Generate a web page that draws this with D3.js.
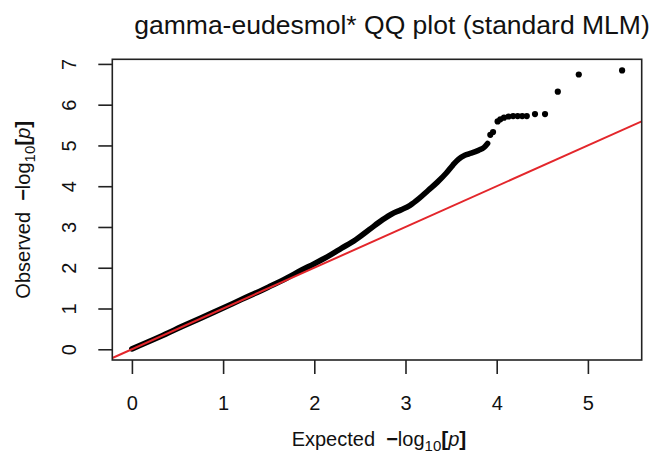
<!DOCTYPE html>
<html>
<head>
<meta charset="utf-8">
<script src="https://cdn.jsdelivr.net/npm/d3@7"></script>
<style>
    html, body { margin: 0; padding: 0; background: #fff; }
    #qq-chart { width: 654px; height: 457px; }
    text { font-family: 'Liberation Sans', Arial, sans-serif; fill: #111; }
</style>
</head>
<body>
<div id="qq-chart"></div>
<script>
// main band of points (expected, observed)
const expectedDense = [0, 0.3, 0.6, 0.9, 1.2, 1.5, 1.7, 1.85, 2.0, 2.15, 2.3, 2.45, 2.6, 2.75, 2.85, 2.95, 3.05, 3.15, 3.25, 3.35, 3.45, 3.52, 3.58, 3.65, 3.72, 3.8, 3.86, 3.9];
const observedDense = [0.01, 0.3, 0.61, 0.91, 1.22, 1.53, 1.75, 1.93, 2.1, 2.28, 2.48, 2.68, 2.93, 3.18, 3.32, 3.42, 3.53, 3.7, 3.9, 4.1, 4.33, 4.52, 4.66, 4.76, 4.81, 4.88, 4.95, 5.05];

// sparse tail points
const expectedTail = [3.93, 3.96, 4.01, 4.04, 4.08, 4.13, 4.18, 4.23, 4.28, 4.33, 4.42, 4.53, 4.67, 4.9, 5.375];
const observedTail = [5.26, 5.33, 5.59, 5.64, 5.68, 5.71, 5.72, 5.72, 5.72, 5.72, 5.77, 5.77, 6.32, 6.74, 6.84];

const xTickLabels = [0, 1, 2, 3, 4, 5];
const yTickLabels = [0, 1, 2, 3, 4, 5, 6, 7];

const titleText = 'gamma-eudesmol* QQ plot (standard MLM)';

// ******************************* //
// QQ PLOT //
// ******************************* //

class QQChart {
    constructor(divId) {
        const vis = this;
        vis.chartDiv = document.getElementById(divId);
        vis.dense = expectedDense.map((e, i) => ({ e: e, o: observedDense[i] }));
        vis.tail = expectedTail.map((e, i) => ({ e: e, o: observedTail[i] }));
        vis.initVis();
    }

    initVis() {
        const vis = this;

        vis.width = 654;
        vis.height = 457;
        vis.MARGIN = { top: 59.3, right: 12.3, bottom: 97, left: 112.3 };
        vis.gWIDTH = vis.width - (vis.MARGIN.left + vis.MARGIN.right);
        vis.gHEIGHT = vis.height - (vis.MARGIN.top + vis.MARGIN.bottom);

        vis.svg = d3.select(vis.chartDiv).append('svg')
            .attr('width', vis.width)
            .attr('height', vis.height);

        vis.g = vis.svg.append('g')
            .attr('transform', 'translate(' + vis.MARGIN.left + ',' + vis.MARGIN.top + ')');

        vis.redraw();
    }

    redraw() {
        const vis = this;
        const all = vis.dense.concat(vis.tail);

        // DOMAINS, R STYLE 4% PADDING
        const xExt = d3.extent(all, d => d.e);
        const yExt = d3.extent(all, d => d.o);
        const xPad = (xExt[1] - xExt[0]) * 0.04;
        const yPad = (yExt[1] - yExt[0]) * 0.04;

        const x = d3.scaleLinear()
            .domain([xExt[0] - xPad, xExt[1] + xPad])
            .range([0, vis.gWIDTH]);

        const y = d3.scaleLinear()
            .domain([yExt[0] - yPad, yExt[1] + yPad])
            .range([vis.gHEIGHT, 0]);

        // clip for the reference line
        vis.svg.append('defs').append('clipPath').attr('id', 'plot-clip')
            .append('rect')
            .attr('width', vis.gWIDTH)
            .attr('height', vis.gHEIGHT);

        // DENSE BAND
        const line = d3.line()
            .x(d => x(d.e))
            .y(d => y(d.o))
            .curve(d3.curveMonotoneX);

        vis.g.append('path')
            .datum(vis.dense)
            .attr('d', line)
            .attr('fill', 'none')
            .attr('stroke', '#000')
            .attr('stroke-width', 5.6)
            .attr('stroke-linecap', 'round')
            .attr('stroke-linejoin', 'round');

        // POINTS
        vis.g.selectAll('.qq-pt')
            .data(vis.tail)
            .enter()
            .append('circle')
            .attr('class', 'qq-pt')
            .attr('cx', d => x(d.e))
            .attr('cy', d => y(d.o))
            .attr('r', 3.1)
            .attr('fill', '#000');

        // Y = X LINE
        const xd = x.domain();
        vis.g.append('line')
            .attr('clip-path', 'url(#plot-clip)')
            .attr('x1', x(xd[0]))
            .attr('y1', y(xd[0]))
            .attr('x2', x(xd[1]))
            .attr('y2', y(xd[1]))
            .attr('stroke', '#e3262b')
            .attr('stroke-width', 2);

        // BOX
        vis.g.append('rect')
            .attr('width', vis.gWIDTH)
            .attr('height', vis.gHEIGHT)
            .attr('fill', 'none')
            .attr('stroke', '#222')
            .attr('stroke-width', 1.6);

        // X AXIS
        const xAxisCall = d3.axisBottom(x)
            .tickValues(xTickLabels)
            .tickSizeInner(14)
            .tickSizeOuter(0)
            .tickFormat(d3.format('d'));

        const xAxis = vis.g.append('g')
            .attr('class', 'axis x-axis')
            .attr('transform', `translate(0, ${vis.gHEIGHT})`)
            .call(xAxisCall);

        xAxis.select('.domain').remove();
        xAxis.selectAll('line').attr('stroke', '#222').attr('stroke-width', 1.6);
        xAxis.selectAll('text')
            .attr('y', 50)
            .attr('dy', 0)
            .style('font-size', '20px')
            .style('font-family', "'Liberation Sans', Arial, sans-serif")
            .attr('fill', '#111');

        // Y AXIS
        const yAxisCall = d3.axisLeft(y)
            .tickValues(yTickLabels)
            .tickSizeInner(14)
            .tickSizeOuter(0)
            .tickFormat(d3.format('d'));

        const yAxis = vis.g.append('g')
            .attr('class', 'axis y-axis')
            .call(yAxisCall);

        yAxis.select('.domain').remove();
        yAxis.selectAll('line').attr('stroke', '#222').attr('stroke-width', 1.6);
        yAxis.selectAll('text')
            .attr('x', 0)
            .attr('y', 0)
            .attr('dy', 0)
            .attr('transform', 'translate(-36,0) rotate(-90)')
            .style('text-anchor', 'middle')
            .style('font-size', '20px')
            .style('font-family', "'Liberation Sans', Arial, sans-serif")
            .attr('fill', '#111');

        // TITLE
        vis.svg.append('text')
            .attr('x', 392)
            .attr('y', 34)
            .attr('text-anchor', 'middle')
            .style('font-size', '26.5px')
            .text(titleText);

        // AXIS LABELS
        const plotMidX = vis.MARGIN.left + vis.gWIDTH / 2;
        const plotMidY = vis.MARGIN.top + vis.gHEIGHT / 2;

        const xLab = vis.svg.append('text')
            .attr('x', plotMidX + 2)
            .attr('y', 446)
            .attr('text-anchor', 'middle')
            .style('font-size', '20px');
        vis.logLabel(xLab, 'Expected');

        const yLab = vis.svg.append('text')
            .attr('transform', `translate(30, ${plotMidY}) rotate(-90)`)
            .attr('text-anchor', 'middle')
            .style('font-size', '20px');
        vis.logLabel(yLab, 'Observed');
    }

    logLabel(el, word) {
        el.append('tspan').text(word + '\u00a0\u00a0');
        el.append('tspan').style('font-weight', 'bold').text('\u2212');
        el.append('tspan').text('log');
        el.append('tspan').attr('dy', 5).style('font-size', '15px').text('10');
        el.append('tspan').attr('dy', -5).style('font-weight', 'bold').style('font-size', '21px').text('[');
        el.append('tspan').style('font-style', 'italic').text('p');
        el.append('tspan').style('font-weight', 'bold').style('font-size', '21px').text(']');
    }
}

new QQChart('qq-chart');
</script>
</body>
</html>
